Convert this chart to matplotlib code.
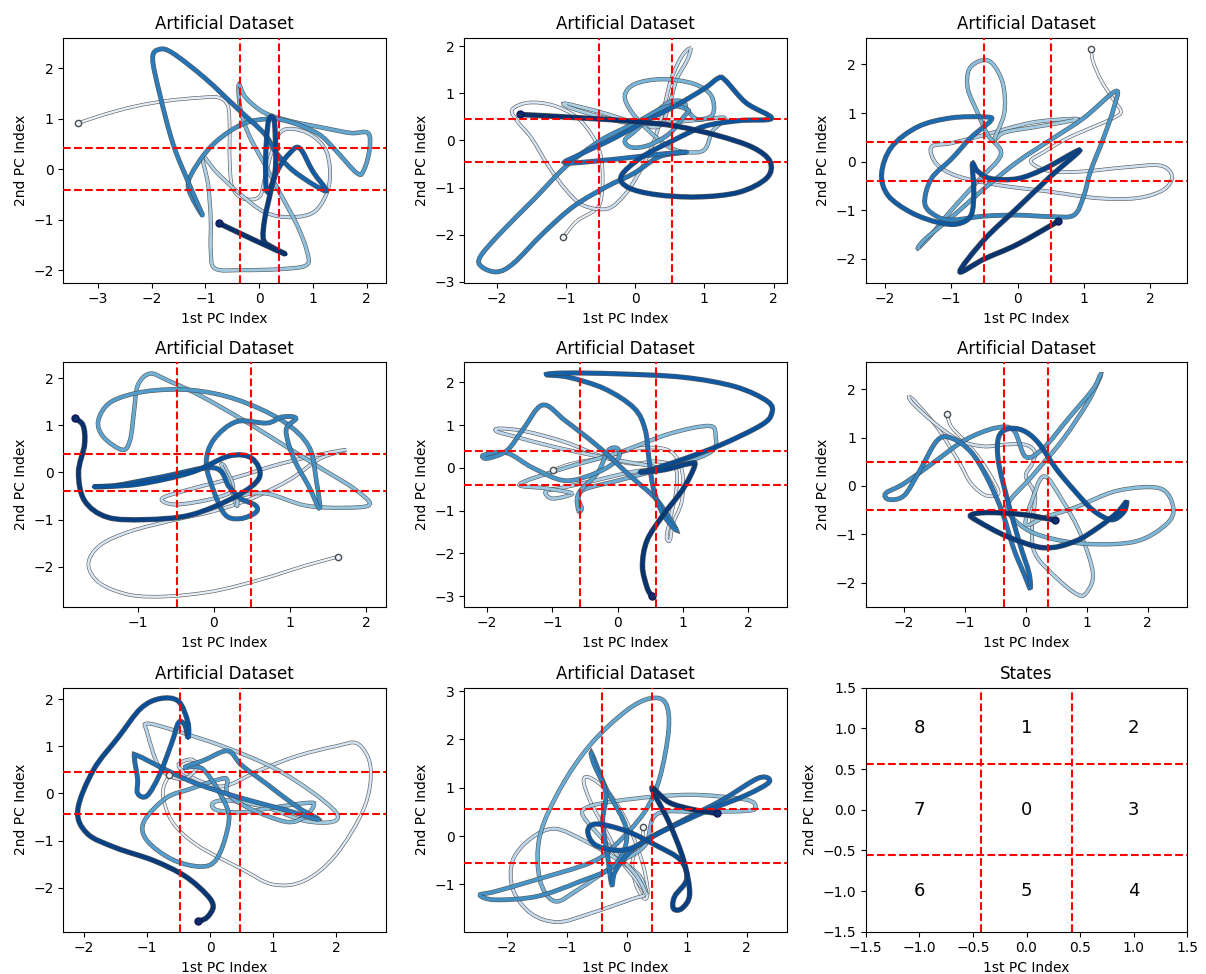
import matplotlib
matplotlib.use("Agg")
import matplotlib.pyplot as plt
import numpy as np
from matplotlib.path import Path
from matplotlib.patches import PathPatch

# ---------------- data ----------------
traj1 = [(-3.37,0.91),(-2.9,1.08),(-2.3,1.25),(-1.7,1.36),(-1.1,1.42),(-0.75,1.42),(-0.58,1.25),(-0.55,0.8),
         (-0.55,0.2),(-0.5,-0.35),(-0.3,-0.58),(0.0,-0.55),(0.1,-0.2),(0.25,0.4),(0.45,0.78),(0.9,0.72),
         (1.25,0.35),(1.3,-0.3),(1.05,-0.82),(0.6,-0.95),(0.1,-0.85),(-0.4,-0.45),(-0.8,-0.05),(-1.05,0.25),
         (-0.95,-0.3),(-0.9,-1.0),(-0.9,-1.6),(-0.82,-1.97),(-0.3,-2.0),(0.4,-1.98),(0.88,-1.9),(0.88,-1.6),
         (0.7,-1.1),(0.4,-0.5),(0.1,0.1),(-0.2,0.7),(-0.35,1.2),(-0.38,1.68),(-0.25,1.42),(0.1,1.12),
         (0.6,0.95),(1.2,0.82),(1.7,0.72),(2.02,0.72),(2.05,0.4),(1.95,0.0),(1.82,-0.08),(1.4,0.4),
         (1.1,0.7),(0.6,0.93),(0.2,1.0),(-0.3,0.9),(-0.8,0.55),(-1.15,0.1),(-1.32,-0.35),(-1.05,-0.92),
         (-1.3,-0.3),(-1.6,0.5),(-1.85,1.5),(-1.98,2.2),(-1.85,2.38),(-1.6,2.3),(-1.0,1.8),(-0.4,1.2),
         (0.1,0.7),(0.3,0.35),(0.6,0.0),(1.0,-0.3),(1.25,-0.42),(1.0,-0.05),(0.75,0.42),(0.55,0.3),
         (0.35,0.0),(0.15,-0.45),(0.12,0.2),(0.17,0.95),(0.27,1.0),(0.3,0.6),(0.3,0.0),(0.2,-0.5),
         (0.1,-1.0),(0.08,-1.4),(0.25,-1.55),(0.48,-1.68),(-0.1,-1.4),(-0.75,-1.07)]

traj2 = [(-1.04,-2.06),(-0.85,-1.72),(-0.6,-1.5),(-0.5,-1.3),(-0.47,-0.8),(-0.5,-0.3),(-0.62,0.1),(-0.85,0.5),
         (-1.2,0.75),(-1.55,0.8),(-1.78,0.65),(-1.7,0.4),(-1.5,0.05),(-1.25,-0.55),(-1.0,-1.05),(-0.75,-1.38),
         (-0.4,-1.45),(-0.15,-1.15),(0.05,-0.7),(0.25,-0.1),(0.4,0.6),(0.52,1.3),(0.68,1.8),(0.8,1.95),
         (0.75,1.7),(0.6,1.3),(0.5,0.8),(0.35,0.3),(0.0,0.38),(-0.5,0.6),(-1.0,0.78),(-0.95,0.7),
         (-0.5,0.5),(0.0,0.35),(0.5,0.38),(1.0,0.45),(1.3,0.47),(1.12,0.2),(1.0,-0.2),(0.75,-0.25),
         (0.5,-0.15),(0.2,0.2),(-0.05,0.6),(-0.15,0.95),(0.0,1.2),(0.4,1.3),(0.85,1.2),(1.1,0.95),
         (1.12,0.55),(0.9,0.45),(0.75,0.65),(0.7,0.82),(0.5,0.82),(0.3,0.6),(0.0,0.2),(-0.15,0.0),
         (-0.05,-0.15),(0.2,-0.1),(0.5,0.15),(0.7,0.5),(0.76,0.65),(0.46,0.72),(0.0,0.37),(-0.5,0.0),
         (-1.0,-0.55),(-1.47,-1.26),(-1.95,-1.97),(-2.24,-2.47),(-2.22,-2.68),(-2.0,-2.79),(-1.76,-2.61),
         (-1.33,-1.97),(-0.89,-1.4),(-0.41,-0.98),(-0.02,-0.7),(0.36,-0.34),(0.75,-0.25),(0.3,-0.3),
         (-0.3,-0.4),(-1.0,-0.48),(-0.8,-0.3),(-0.3,0.05),(0.2,0.45),(0.6,0.75),(1.0,1.1),(1.2,1.32),
         (1.3,1.28),(1.6,0.8),(1.97,0.47),(1.5,0.42),(1.0,0.3),(0.55,0.0),(0.1,-0.35),(-0.2,-0.75),
         (-0.1,-1.0),(0.3,-1.15),(0.9,-1.2),(1.5,-1.1),(1.9,-0.8),(1.95,-0.45),(1.7,-0.15),(1.2,0.1),
         (0.6,0.3),(0.0,0.4),(-0.8,0.48),(-1.66,0.55)]

traj3 = [(1.11,2.32),(1.14,2.05),(1.27,1.65),(1.45,1.27),(1.56,1.03),(1.45,0.9),(1.15,0.72),(0.75,0.48),
         (0.4,0.2),(0.2,0.0),(0.5,-0.2),(1.0,-0.2),(1.6,-0.12),(2.15,-0.08),(2.33,-0.3),(2.2,-0.58),
         (1.8,-0.75),(1.2,-0.75),(0.5,-0.62),(-0.3,-0.48),(-0.9,-0.3),(-1.22,-0.05),(-1.3,0.3),(-1.0,0.38),
         (-0.5,0.55),(0.2,0.8),(0.8,0.88),(0.85,0.85),(0.3,0.72),(-0.2,0.6),(-0.35,0.45),(-0.2,1.0),
         (-0.22,1.6),(-0.38,2.02),(-0.55,2.08),(-0.73,1.9),(-0.75,1.5),(-0.6,1.0),(-0.45,0.55),(-0.25,0.15),
         (-0.6,-0.4),(-1.0,-1.0),(-1.3,-1.5),(-1.5,-1.78),(-1.4,-1.6),(-1.0,-1.15),(-0.5,-0.55),(0.0,0.0),
         (0.5,0.45),(1.0,0.9),(1.48,1.45),(1.45,1.1),(1.3,0.5),(1.1,-0.2),(1.0,-0.7),(0.85,-1.1),
         (0.5,-1.13),(0.0,-1.1),(-0.5,-1.12),(-1.0,-1.2),(-1.25,-1.1),(-1.4,-0.85),(-1.3,-0.35),(-1.0,0.05),
         (-0.7,0.5),(-0.4,0.85),(-0.5,0.92),(-1.0,0.9),(-1.5,0.72),(-1.9,0.3),(-2.05,-0.25),(-1.95,-0.7),
         (-1.6,-1.05),(-1.2,-1.25),(-0.9,-1.28),(-0.7,-1.1),(-0.66,-0.6),(-0.68,-0.05),(-0.6,-0.2),
         (-0.4,-0.35),(0.0,-0.35),(0.4,-0.15),(0.94,0.24),(0.5,-0.3),(0.0,-0.95),(-0.5,-1.6),(-0.87,-2.26),
         (-0.5,-2.0),(0.0,-1.7),(0.61,-1.23)]

traj4 = [(1.63,-1.79),(1.2,-1.98),(0.6,-2.28),(0.0,-2.52),(-0.6,-2.63),(-1.1,-2.6),(-1.5,-2.35),(-1.65,-1.95),
         (-1.5,-1.55),(-1.1,-1.25),(-0.5,-1.0),(0.0,-0.82),(0.5,-0.55),(1.0,-0.15),(1.4,0.3),(1.74,0.48),
         (1.3,0.35),(0.8,0.15),(0.3,-0.1),(-0.3,-0.35),(-0.68,-0.55),(-0.5,-0.68),(0.0,-0.55),(0.25,-0.35),
         (0.15,0.1),(0.1,0.15),(0.2,-0.2),(0.3,-0.7),(0.35,-0.5),(0.7,-0.45),(1.2,-0.7),(1.7,-0.75),
         (2.05,-0.68),(1.85,-0.35),(1.45,0.05),(1.0,0.5),(0.4,1.1),(-0.2,1.65),(-0.6,1.95),(-0.84,2.1),
         (-1.0,1.85),(-1.05,1.3),(-1.1,0.7),(-1.2,0.48),(-1.45,0.75),(-1.52,1.1),(-1.35,1.5),(-0.9,1.72),
         (-0.3,1.75),(0.3,1.55),(0.9,1.1),(1.25,0.55),(1.35,-0.2),(1.39,-0.76),(1.25,-0.3),(1.05,0.3),
         (0.95,0.9),(1.08,1.15),(0.9,1.18),(0.7,1.05),(0.3,1.08),(0.0,0.7),(-0.1,0.2),(0.0,-0.4),
         (0.15,-0.9),(0.35,-0.98),(0.55,-0.85),(0.55,-0.7),(0.35,-0.55),(0.2,-0.3),(0.0,0.1),(-0.7,-0.1),
         (-1.3,-0.28),(-1.57,-0.3),(-1.0,-0.25),(-0.3,0.0),(0.2,0.35),(0.5,0.3),(0.6,-0.1),(0.3,-0.5),
         (-0.3,-0.9),(-0.9,-1.0),(-1.4,-0.95),(-1.7,-0.6),(-1.78,0.0),(-1.7,0.6),(-1.72,1.0),(-1.83,1.15)]

traj5 = [(-0.99,-0.05),(-0.7,0.1),(-0.2,0.25),(0.3,0.45),(0.7,0.45),(0.9,0.25),(1.0,-0.2),(0.98,-0.8),
         (0.85,-1.3),(0.8,-1.7),(0.75,-1.6),(0.82,-1.1),(0.9,-0.5),(0.88,0.0),(0.6,0.15),(0.2,0.1),
         (-0.3,0.3),(-0.8,0.6),(-1.4,0.85),(-1.8,0.92),(-1.85,0.85),(-1.5,0.7),(-1.0,0.5),(-0.4,0.3),
         (0.1,0.15),(0.6,0.0),(0.2,-0.1),(-0.3,-0.28),(-0.8,-0.45),(-1.1,-0.55),(-1.0,-0.72),(-0.7,-0.6),
         (-1.1,-0.48),(-1.5,-0.38),(-0.8,0.0),(0.0,0.35),(0.8,0.8),(1.4,0.98),(1.5,0.75),(1.45,0.4),
         (1.0,0.1),(0.5,-0.1),(0.0,-0.3),(-0.5,-0.5),(-0.6,-0.7),(-0.55,-0.95),(-0.6,-1.0),(-0.6,-0.6),
         (-0.3,-0.1),(-0.15,0.4),(0.0,0.45),(0.0,0.2),(-0.3,-0.1),(-0.8,-0.3),(-1.3,0.0),(-1.7,0.35),
         (-2.05,0.3),(-2.0,0.22),(-1.7,0.4),(-1.45,0.9),(-1.15,1.47),(-0.8,1.1),(-0.3,0.5),(0.2,-0.2),
         (0.6,-0.75),(0.9,-1.45),(0.7,-1.1),(0.55,-0.5),(0.48,0.2),(0.42,0.9),(0.25,1.4),(-0.2,1.85),
         (-0.75,2.12),(-1.1,2.18),(-0.8,2.22),(0.0,2.2),(1.0,2.12),(1.8,1.9),(2.3,1.55),(2.36,1.27),
         (2.2,1.0),(1.6,0.55),(1.0,0.2),(0.5,-0.05),(0.35,-0.1),(0.7,-0.05),(1.1,0.1),(1.18,0.05),
         (1.0,-0.5),(0.7,-1.1),(0.45,-1.7),(0.38,-2.3),(0.45,-2.8),(0.52,-3.0)]

traj6 = [(-1.3,1.49),(-1.22,1.22),(-0.98,0.9),(-0.75,0.55),(-0.55,0.15),(-0.45,-0.15),(-0.65,-0.2),(-0.9,0.05),
         (-1.1,0.5),(-1.45,1.2),(-1.8,1.72),(-1.92,1.85),(-1.85,1.7),(-1.5,1.3),(-1.1,0.95),(-0.7,0.82),
         (-0.3,0.86),(0.0,0.85),(0.15,0.7),(0.1,0.45),(0.0,0.2),(0.15,-0.2),(0.1,-0.8),(0.15,-1.4),
         (0.5,-1.9),(0.85,-2.25),(1.0,-2.2),(1.1,-1.8),(0.9,-1.0),(0.6,-0.3),(0.3,0.2),(0.1,-0.3),
         (0.0,-0.8),(0.3,-0.65),(0.8,-0.45),(1.5,-0.1),(2.2,-0.05),(2.42,-0.45),(2.3,-0.8),(1.8,-1.15),
         (1.0,-1.2),(0.3,-1.05),(-0.1,-0.8),(-0.3,-0.4),(0.1,0.2),(0.6,0.95),(1.0,1.7),(1.2,2.2),
         (1.22,2.3),(1.1,2.0),(0.7,1.4),(0.3,0.8),(0.0,0.6),(-0.2,1.15),(-0.5,1.2),(-1.0,0.95),
         (-1.5,0.5),(-2.0,0.05),(-2.3,-0.15),(-2.25,-0.28),(-2.0,-0.2),(-1.75,0.3),(-1.45,0.95),(-1.2,0.98),
         (-0.9,0.7),(-0.65,0.2),(-0.4,-0.5),(-0.2,-1.3),(-0.02,-1.85),(0.07,-2.12),(0.05,-1.8),(-0.1,-1.2),
         (-0.3,-0.3),(-0.45,0.5),(-0.45,1.0),(-0.3,1.18),(-0.05,1.15),(0.2,0.9),(0.5,0.35),(0.8,-0.1),
         (1.1,-0.5),(1.4,-0.7),(1.6,-0.55),(1.65,-0.33),(1.5,-0.55),(1.2,-0.85),(0.8,-1.15),(0.3,-1.28),
         (-0.3,-1.05),(-0.8,-0.72),(-0.9,-0.6),(-0.6,-0.55),(0.0,-0.6),(0.48,-0.71)]

traj7 = [(-0.65,0.4),(-0.75,0.0),(-0.6,-0.6),(-0.2,-1.1),(0.5,-1.6),(1.0,-1.93),(1.5,-1.85),(2.0,-1.3),
         (2.45,-0.3),(2.55,0.55),(2.35,1.05),(2.0,1.0),(1.4,0.8),(0.8,0.5),(0.2,0.15),(-0.3,0.35),
         (-0.5,0.6),(-0.3,0.72),(-0.2,0.55),(-0.45,0.3),(-0.8,0.55),(-1.0,1.3),(-1.0,1.48),(-0.6,1.35),
         (0.2,1.0),(1.0,0.55),(1.6,0.05),(2.0,-0.4),(1.95,-0.6),(1.5,-0.58),(0.9,-0.3),(0.3,-0.15),
         (0.05,-0.2),(0.1,-0.35),(0.5,-0.4),(1.0,-0.3),(1.55,-0.2),(1.65,-0.25),(1.5,-0.5),(1.2,-0.6),
         (0.6,-0.3),(0.28,0.0),(0.27,0.3),(0.1,0.28),(-0.3,0.1),(-0.7,-0.1),(-1.05,-0.6),(-1.0,-1.0),
         (-0.6,-1.4),(-0.15,-1.55),(0.1,-1.4),(0.27,-0.8),(0.27,-0.3),(-0.1,0.5),(-0.4,0.55),(-0.1,0.7),
         (0.28,0.9),(0.5,0.6),(0.9,0.2),(1.4,-0.3),(1.72,-0.55),(1.2,-0.35),(0.5,-0.1),(-0.2,0.2),
         (-0.7,0.5),(-1.15,0.8),(-1.2,0.75),(-1.15,0.3),(-1.15,0.0),(-1.0,-0.05),(-0.8,0.4),(-0.6,1.1),
         (-0.5,1.5),(-0.4,1.45),(-0.35,1.18),(-0.35,1.5),(-0.5,1.95),(-0.79,2.01),(-1.1,1.8),(-1.45,1.2),
         (-1.85,0.5),(-2.1,-0.35),(-1.95,-0.85),(-1.5,-1.15),(-0.9,-1.42),(-0.4,-1.75),(-0.05,-2.15),
         (0.05,-2.4),(-0.05,-2.63),(-0.19,-2.71)]

traj8 = [(0.28,0.19),(0.25,-0.1),(0.1,-0.5),(0.15,-1.0),(0.3,-1.3),(0.35,-1.1),(0.25,-0.5),(0.0,0.3),
         (-0.3,0.9),(-0.6,1.2),(-0.72,1.15),(-0.6,0.7),(-0.3,0.0),(-0.1,-0.5),(0.15,-0.9),(0.3,-1.2),
         (0.1,-1.3),(-0.6,-1.6),(-1.15,-1.78),(-1.6,-1.6),(-1.9,-1.1),(-1.9,-0.5),(-1.6,-0.05),(-1.2,0.15),
         (-0.7,-0.1),(-0.2,-0.45),(0.2,-0.8),(0.33,-1.2),(0.15,-0.8),(-0.3,-0.2),(-0.72,0.4),(-0.65,0.6),
         (-0.2,0.72),(0.5,0.82),(1.2,0.85),(2.0,0.75),(2.15,0.6),(2.0,0.52),(1.2,0.5),(0.5,0.45),
         (0.3,-0.2),(-0.2,-0.6),(-0.8,-1.1),(-1.2,-1.35),(-1.45,-0.9),(-1.45,0.0),(-1.1,1.0),(-0.6,1.9),
         (0.0,2.6),(0.4,2.85),(0.65,2.75),(0.7,2.2),(0.55,1.2),(0.3,0.5),(-0.2,-0.2),(-0.6,-0.55),
         (-1.5,-0.9),(-2.2,-1.15),(-2.45,-1.22),(-2.2,-1.32),(-1.5,-1.25),(-0.8,-0.95),(-0.2,-0.6),
         (0.0,0.1),(-0.35,1.0),(-0.58,1.7),(-0.55,1.5),(-0.35,0.9),(-0.4,0.3),(-0.32,-0.4),(-0.25,-1.0),
         (-0.2,-0.75),(0.0,-0.4),(0.3,-0.1),(0.9,0.3),(1.6,0.75),(2.2,1.2),(2.38,1.12),(2.0,0.85),
         (1.3,0.5),(0.6,0.1),(0.0,-0.28),(-0.5,-0.2),(-0.65,0.1),(-0.5,0.25),(0.0,0.1),(0.5,-0.2),
         (0.9,-0.5),(1.0,-0.9),(0.8,-1.25),(0.78,-1.5),(0.92,-1.5),(1.05,-1.2),(0.95,-0.5),(0.7,0.3),
         (0.42,0.99),(0.7,0.7),(1.1,0.55),(1.5,0.47)]

trajectories = [traj1, traj2, traj3, traj4, traj5, traj6, traj7, traj8]

# state thresholds (x, y) per panel
thresh_x = [0.365, 0.525, 0.51, 0.49, 0.58, 0.36, 0.47, 0.42]
thresh_y = [0.42, 0.455, 0.395, 0.40, 0.405, 0.49, 0.445, 0.555]

xlims = [(-3.64, 2.35), (-2.47, 2.19), (-2.29, 2.56), (-1.98, 2.26),
         (-2.35, 2.59), (-2.63, 2.65), (-2.33, 2.79), (-2.71, 2.67)]
ylims = [(-2.25, 2.61), (-3.02, 2.18), (-2.49, 2.55), (-2.85, 2.34),
         (-3.25, 2.47), (-2.5, 2.56), (-2.93, 2.24), (-1.98, 3.07)]
xticks = [[-3, -2, -1, 0, 1, 2], [-2, -1, 0, 1, 2], [-2, -1, 0, 1, 2], [-1, 0, 1, 2],
          [-2, -1, 0, 1, 2], [-2, -1, 0, 1, 2], [-2, -1, 0, 1, 2], [-2, -1, 0, 1, 2]]
yticks = [[-2, -1, 0, 1, 2], [-3, -2, -1, 0, 1, 2], [-2, -1, 0, 1, 2], [-2, -1, 0, 1, 2],
          [-3, -2, -1, 0, 1, 2], [-2, -1, 0, 1, 2], [-2, -1, 0, 1, 2], [-1, 0, 1, 2, 3]]

state_labels = ["8", "1", "2", "7", "0", "3", "6", "5", "4"]
state_x = [-1, 0, 1, -1, 0, 1, -1, 0, 1]
state_y = [1, 1, 1, 0, 0, 0, -1, -1, -1]
states_thresh_x = 0.42
states_thresh_y = 0.56

# ---------------- layout ----------------
W, H = 1206, 974
fig = plt.figure(figsize=(W / 100, H / 100), dpi=100)
col_px = [(63.3, 385.7), (464.3, 786.7), (865.7, 1187.3)]
row_px = [(37.7, 282.7), (362.3, 606.7), (687.7, 931.7)]


def box(r, c):
    l, rr = col_px[c]
    t, b = row_px[r]
    return [l / W, 1 - b / H, (rr - l) / W, (b - t) / H]


cmap = plt.cm.Blues
CODES = [Path.MOVETO, Path.CURVE4, Path.CURVE4, Path.CURVE4]


def draw_traj(ax, pts):
    """Draw the read waypoints as a smooth (Catmull-Rom style Bezier) path,
    piece by piece so that colour and width follow the time order."""
    p = np.asarray(pts, dtype=float)
    n = len(p)
    for i in range(n - 1):
        p0 = p[max(i - 1, 0)]
        p1 = p[i]
        p2 = p[i + 1]
        p3 = p[min(i + 2, n - 1)]
        c1 = p1 + (p2 - p0) / 6.0
        c2 = p2 - (p3 - p1) / 6.0
        path = Path([p1, c1, c2, p2], CODES)
        f = i / (n - 2)
        col = cmap(0.07 + 0.93 * f)
        lw = 1.6 + 1.5 * f
        ax.add_patch(PathPatch(path, fill=False, edgecolor=(0.25, 0.25, 0.25, 0.85),
                               lw=lw + 0.9, capstyle="butt", zorder=2))
        ax.add_patch(PathPatch(path, fill=False, edgecolor=col, lw=lw,
                               capstyle="round", joinstyle="round", zorder=2))
    ax.plot(p[0, 0], p[0, 1], "o", ms=4.5, mfc=cmap(0.05), mec="0.3", mew=1.0, zorder=2.5)
    ax.plot(p[-1, 0], p[-1, 1], "o", ms=5, color=cmap(1.0), mec="#14145a", zorder=2.5)


for k, pts in enumerate(trajectories):
    r, c = divmod(k, 3)
    ax = fig.add_axes(box(r, c))
    draw_traj(ax, pts)
    for v in (-thresh_x[k], thresh_x[k]):
        ax.axvline(v, color="red", ls="--", lw=1.5, zorder=3)
    for v in (-thresh_y[k], thresh_y[k]):
        ax.axhline(v, color="red", ls="--", lw=1.5, zorder=3)
    ax.set_xlim(*xlims[k])
    ax.set_ylim(*ylims[k])
    ax.set_xticks(xticks[k])
    ax.set_yticks(yticks[k])
    ax.set_title("Artificial Dataset", fontsize=12)
    ax.set_xlabel("1st PC Index", fontsize=10)
    ax.set_ylabel("2nd PC Index", fontsize=10)

# States panel
ax = fig.add_axes(box(2, 2))
for v in (-states_thresh_x, states_thresh_x):
    ax.axvline(v, color="red", ls="--", lw=1.5)
for v in (-states_thresh_y, states_thresh_y):
    ax.axhline(v, color="red", ls="--", lw=1.5)
for lab, sx, sy in zip(state_labels, state_x, state_y):
    ax.text(sx, sy, lab, ha="center", va="center", fontsize=13)
ax.set_xlim(-1.5, 1.5)
ax.set_ylim(-1.5, 1.5)
ax.set_xticks(np.arange(-1.5, 1.51, 0.5))
ax.set_yticks(np.arange(-1.5, 1.51, 0.5))
ax.set_title("States", fontsize=12)
ax.set_xlabel("1st PC Index", fontsize=10)
ax.set_ylabel("2nd PC Index", fontsize=10)

fig.savefig("out.png", dpi=100)
